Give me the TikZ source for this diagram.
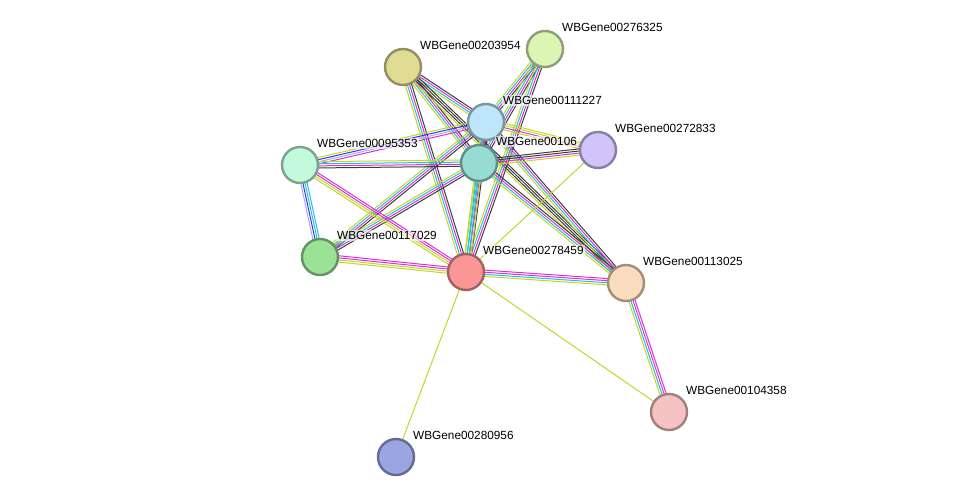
\documentclass[tikz,border=0pt]{standalone}
\usepackage{fontspec}
\setmainfont{Liberation Sans}
\usepackage{tikz}
\usetikzlibrary{calc}
\definecolor{tm}{RGB}{190,215,40}
\definecolor{db}{RGB}{40,190,215}
\definecolor{ex}{RGB}{215,50,215}
\definecolor{co}{RGB}{60,60,60}
\definecolor{cc}{RGB}{50,50,255}
\definecolor{hm}{RGB}{170,170,240}
\definecolor{gA}{RGB}{224,220,150}
\definecolor{gB}{RGB}{220,245,180}
\definecolor{gC}{RGB}{190,230,250}
\definecolor{gD}{RGB}{210,195,250}
\definecolor{gE}{RGB}{195,250,220}
\definecolor{gF}{RGB}{150,220,210}
\definecolor{gG}{RGB}{155,225,150}
\definecolor{gH}{RGB}{250,150,150}
\definecolor{gI}{RGB}{250,220,190}
\definecolor{gJ}{RGB}{245,195,195}
\definecolor{gK}{RGB}{155,165,225}
% one line per evidence colour, side by side
\newcommand{\bundle}[3]{%
  \foreach \c [count=\i] in {#3} {
    \pgfmathsetmacro\off{(\i-2.5)*2.1}
    \draw[\c, line width=1pt] ($(#1)!\off pt!90:(#2)$) -- ($(#2)!\off pt!-90:(#1)$);
  }}
\tikzset{
    gene/.style = {circle, draw=#1!65!black, fill=#1, line width=2.4pt, minimum size=36pt, inner sep=0pt},
    glabel/.style = {font=\fontsize{11.8}{13}\selectfont, anchor=south west, inner sep=1pt, fill=white, fill opacity=0.6, text opacity=1}
}
\begin{document}
\begin{tikzpicture}[x=1pt,y=-1pt]
    \useasboundingbox (0,0) rectangle (975,503);
    % node centres
    \coordinate (A) at (403,67);
    \coordinate (B) at (545,49);
    \coordinate (C) at (486,122);
    \coordinate (D) at (598,150);
    \coordinate (E) at (300,165);
    \coordinate (F) at (479,163);
    \coordinate (G) at (320,257);
    \coordinate (H) at (466,272);
    \coordinate (I) at (626,283);
    \coordinate (J) at (669,412);
    \coordinate (K) at (396,457);

    \bundle{A}{C}{tm,db,ex,co}
    \bundle{A}{F}{tm,db,ex,co}
    \bundle{A}{H}{tm,db,ex,co}
    \bundle{A}{I}{tm,co,co,co}
    \bundle{B}{C}{tm,db,ex,co}
    \bundle{B}{F}{tm,db,ex,co}
    \bundle{B}{H}{tm,db,ex,co}
    \bundle{C}{E}{tm,cc,hm,ex}
    \bundle{C}{F}{tm,db,ex,co}
    \bundle{C}{H}{tm,db,ex,co}
    \bundle{C}{I}{tm,db,ex,co}
    \bundle{C}{D}{tm,ex,tm,tm}
    \bundle{C}{G}{tm,db,ex,co}
    \bundle{F}{E}{tm,db,ex,co}
    \bundle{F}{D}{tm,ex,co,co}
    \bundle{F}{H}{tm,db,db,tm}
    \bundle{F}{I}{tm,db,ex,co}
    \bundle{F}{G}{tm,db,ex,co}
    \bundle{E}{G}{hm,cc,db,db}
    \bundle{E}{H}{tm,tm,ex,ex}
    \bundle{G}{H}{tm,tm,ex,ex}
    \bundle{H}{I}{tm,db,ex,ex}
    \bundle{I}{J}{tm,db,ex,ex}
    \draw[tm, line width=1pt] (H) -- (D);
    \draw[tm, line width=1pt] (H) -- (J);
    \draw[tm, line width=1pt] (H) -- (K);

    \foreach \p/\t in {A/WBGene00203954, B/WBGene00276325, C/WBGene00111227,
        E/WBGene00095353, F/WBGene00106, G/WBGene00117029, H/WBGene00278459,
        I/WBGene00113025, J/WBGene00104358, K/WBGene00280956, D/WBGene00272833} {
        \node[gene=g\p] (n\p) at (\p) {};
        \node[glabel] (l\p) at ($(\p)+(16,-16)$) {\t};
    }
\end{tikzpicture}
\end{document}
